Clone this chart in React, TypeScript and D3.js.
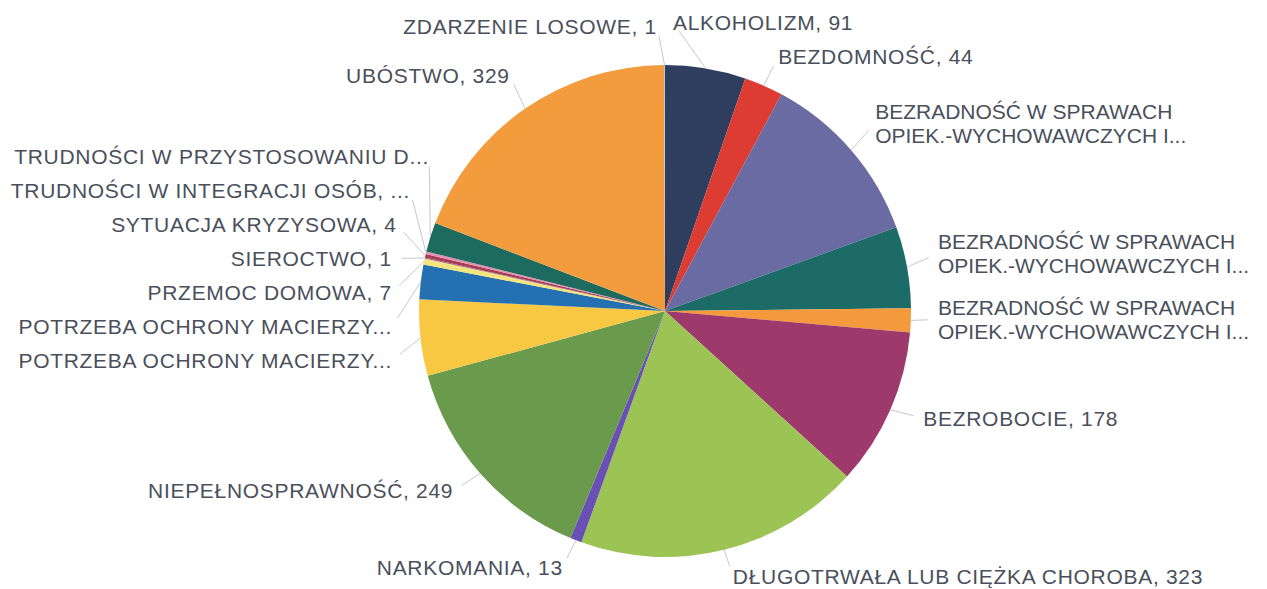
import React from "react";
import * as d3 from "d3";

const categories: string[] = [
  "ALKOHOLIZM",
  "BEZDOMNOŚĆ",
  "BEZRADNOŚĆ W SPRAWACH\nOPIEK.-WYCHOWAWCZYCH I...",
  "BEZRADNOŚĆ W SPRAWACH\nOPIEK.-WYCHOWAWCZYCH I...",
  "BEZRADNOŚĆ W SPRAWACH\nOPIEK.-WYCHOWAWCZYCH I...",
  "BEZROBOCIE",
  "DŁUGOTRWAŁA LUB CIĘŻKA CHOROBA",
  "NARKOMANIA",
  "NIEPEŁNOSPRAWNOŚĆ",
  "POTRZEBA OCHRONY MACIERZY...",
  "POTRZEBA OCHRONY MACIERZY...",
  "PRZEMOC DOMOWA",
  "SIEROCTWO",
  "SYTUACJA KRYZYSOWA",
  "TRUDNOŚCI W INTEGRACJI OSÓB, ...",
  "TRUDNOŚCI W PRZYSTOSOWANIU D...",
  "UBÓSTWO",
  "ZDARZENIE LOSOWE",
];

const values: number[] = [91, 44, 200, 92, 27, 178, 323, 13, 249, 86, 39, 7, 1, 4, 3, 33, 329, 1];

// whether the label is shown with its value (truncated labels are not)
const showValue: boolean[] = [
  true, true, false, false, false, true, true, true, true,
  false, false, true, true, true, false, false, true, true,
];

const colors: string[] = [
  "#2f3e5f", "#dd3c33", "#6b6ba4", "#1d6b66", "#f49a3c", "#9d3a6b",
  "#9bc454", "#6a4fb5", "#6a9a4c", "#f8c842", "#2470b0", "#f3e47c",
  "#8f5aa8", "#a83c50", "#e58fb4", "#1d6a5e", "#f39c3e", "#9cc6e0",
];

const W = 1267;
const H = 589;
const CX = 665;
const CY = 311;
const R = 246;
const LABEL_CY = 306;
const LABEL_R = 280;
const ANCHOR_R = 282;
const MAX_DX = 273;
const MIN_DX = 8;
const LINE_H = 24;
const FONT_SIZE = 21;

type Lab = {
  i: number;
  side: number;
  ideal: number;
  h: number;
  y: number;
  lines: string[];
  mid: number;
};

function resolve(items: Lab[]) {
  items.sort((a, b) => a.ideal - b.ideal);
  type Cl = { items: Lab[]; offs: number[]; s: number };
  const clusters: Cl[] = [];
  const fit = (c: Cl) => {
    const offs: number[] = [0];
    for (let k = 1; k < c.items.length; k++) {
      offs.push(offs[k - 1] + (c.items[k - 1].h + c.items[k].h) / 2);
    }
    c.offs = offs;
    c.s = d3.mean(c.items.map((it, k) => it.ideal - offs[k])) as number;
  };
  for (const it of items) {
    const c: Cl = { items: [it], offs: [0], s: it.ideal };
    fit(c);
    clusters.push(c);
    while (clusters.length > 1) {
      const a = clusters[clusters.length - 2];
      const b = clusters[clusters.length - 1];
      const la = a.items[a.items.length - 1];
      const lastA = a.s + a.offs[a.offs.length - 1];
      const firstB = b.s;
      if (lastA + (la.h + b.items[0].h) / 2 > firstB) {
        const m: Cl = { items: a.items.concat(b.items), offs: [], s: 0 };
        fit(m);
        clusters.splice(clusters.length - 2, 2, m);
      } else break;
    }
  }
  for (const c of clusters)
    c.items.forEach((it, k) => (it.y = Math.max(20, Math.min(H - 13, c.s + c.offs[k]))));
}

export default function App() {
  const arcs = d3
    .pie<number>()
    .sort(null)
    .startAngle(0)
    .endAngle(2 * Math.PI)
    .value((d) => d)(values);
  const arcGen = d3.arc<d3.PieArcDatum<number>>().innerRadius(0).outerRadius(R);

  const labs: Lab[] = arcs.map((a, i) => {
    const mid = (a.startAngle + a.endAngle) / 2;
    const lines = (showValue[i] ? `${categories[i]}, ${values[i]}` : categories[i]).split("\n");
    return {
      i,
      side: mid < Math.PI ? 1 : -1,
      ideal: LABEL_CY - LABEL_R * Math.cos(mid),
      h: lines.length > 1 ? 66 : 34,
      y: 0,
      lines,
      mid,
    };
  });
  resolve(labs.filter((l) => l.side > 0));
  resolve(labs.filter((l) => l.side < 0));

  const placed = labs.map((l) => {
    const dy = l.y - CY;
    const byAngle = ANCHOR_R * Math.abs(Math.sin(l.mid));
    const byCircle = Math.sqrt(Math.max(0, ANCHOR_R * ANCHOR_R - dy * dy));
    const dx = Math.max(MIN_DX, Math.min(byAngle, byCircle, MAX_DX));
    const ax = CX + l.side * dx;
    const ex = CX + R * Math.sin(l.mid);
    const ey = CY - R * Math.cos(l.mid);
    const vx = ex - ax;
    const vy = ey - l.y;
    const len = Math.hypot(vx, vy) || 1;
    const pull = Math.min(10, len / 2);
    return { ...l, ax, ex, ey, lx: ax + (vx / len) * pull, ly: l.y + (vy / len) * pull };
  });

  return (
    <svg
      width={W}
      height={H}
      viewBox={`0 0 ${W} ${H}`}
      style={{ position: "absolute", left: 0, top: 0, display: "block", background: "#ffffff" }}
    >
      <g transform={`translate(${CX},${CY})`}>
        {arcs.map((a, i) => (
          <path key={i} d={arcGen(a) as string} fill={colors[i]} />
        ))}
      </g>
      <g stroke="#c6c8cf" strokeWidth={1} fill="none">
        {placed.map((p) => (
          <line key={p.i} x1={p.ex} y1={p.ey} x2={p.lx} y2={p.ly} />
        ))}
      </g>
      <g fontFamily="'Liberation Sans', Arial, sans-serif" fontSize={FONT_SIZE} fill="#4a4f5b">
        {placed.map((p) => (
          <text
            key={p.i}
            x={p.ax}
            y={p.y}
            textAnchor={p.side > 0 ? "start" : "end"}
            letterSpacing={p.lines.length > 1 ? 0 : 0.7}
          >
            {p.lines.map((t, k) => (
              <tspan
                key={k}
                x={p.ax}
                dy={k === 0 ? `${((-(p.lines.length - 1) * LINE_H) / 2 + FONT_SIZE * 0.36).toFixed(2)}` : LINE_H}
              >
                {t}
              </tspan>
            ))}
          </text>
        ))}
      </g>
    </svg>
  );
}
